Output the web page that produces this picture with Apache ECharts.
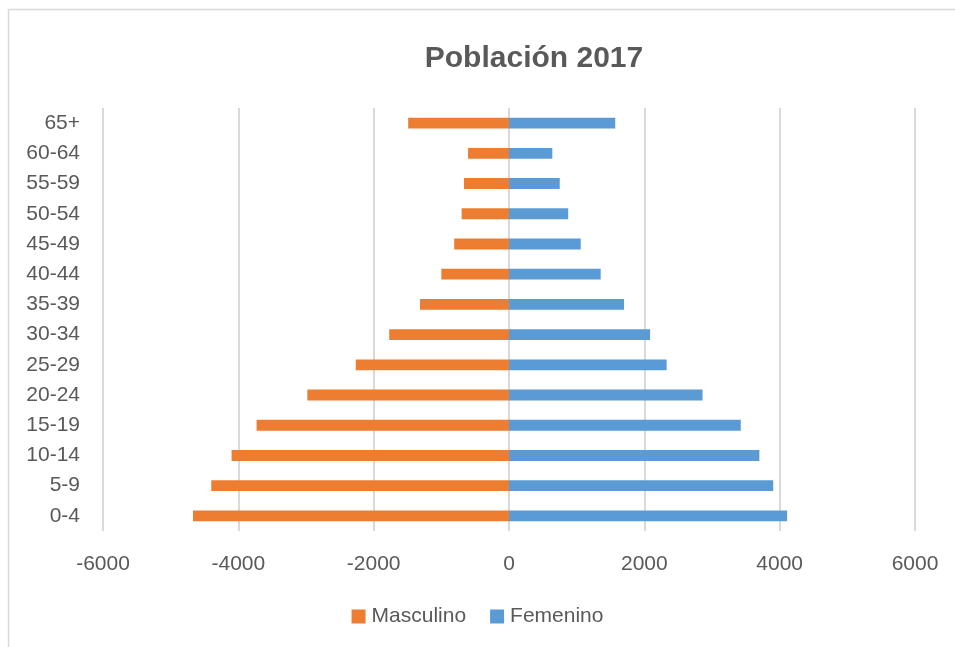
<!DOCTYPE html>
<html>
<head>
<meta charset="utf-8">
<script src="https://cdn.jsdelivr.net/npm/echarts@6/dist/echarts.min.js"></script>
<style>
html,body{margin:0;padding:0;background:#fff;}
#chart{width:955px;height:647px;}
</style>
</head>
<body>
<div id="chart"></div>
<script>
const categories = ['0-4','5-9','10-14','15-19','20-24','25-29','30-34','35-39','40-44','45-49','50-54','55-59','60-64','65+'];
const masculino = [-4670,-4400,-4100,-3730,-2980,-2265,-1770,-1315,-1000,-810,-700,-665,-605,-1490];
const femenino = [4110,3905,3700,3425,2860,2330,2085,1700,1355,1060,875,750,640,1570];
const xTicks = [-6000,-4000,-2000,0,2000,4000,6000];

const FONT = '"Liberation Sans", Arial, sans-serif';
const chart = echarts.init(document.getElementById('chart'), null, {renderer:'canvas'});
chart.setOption({
  animation:false,
  backgroundColor:'#ffffff',
  title:{
    text:'Población 2017',
    left:529, top:39, textAlign:'center',
    textStyle:{fontFamily:FONT,fontSize:30,fontWeight:'bold',color:'#595959'}
  },
  graphic:[{
    type:'rect', shape:{x:8.5,y:9.5,width:960,height:660},
    style:{fill:'none',stroke:'#d9d9d9',lineWidth:1.5}, silent:true
  }],
  legend:{
    bottom:15, left:'center', itemWidth:14, itemHeight:14, itemGap:24,
    icon:'rect',
    textStyle:{fontFamily:FONT,fontSize:21,color:'#595959',padding:[0,0,0,1]},
    data:['Masculino','Femenino']
  },
  grid:{left:103,right:40,top:108,bottom:116,containLabel:false},
  xAxis:{
    type:'value', min:xTicks[0], max:xTicks[xTicks.length-1], interval:2000,
    axisLine:{show:false}, axisTick:{show:false},
    axisLabel:{fontFamily:FONT,fontSize:21,color:'#595959',margin:23,formatter:function(v){return String(v);}},
    splitLine:{show:true,lineStyle:{color:'#d9d9d9',width:2}}
  },
  yAxis:{
    type:'category', data:categories,
    axisLine:{show:false}, axisTick:{show:false},
    axisLabel:{fontFamily:FONT,fontSize:21,color:'#595959',margin:23,padding:[3,0,0,0]}
  },
  series:[
    {name:'Masculino',type:'bar',stack:'t',data:masculino,barWidth:'36%',
     itemStyle:{color:'#ed7d31'}},
    {name:'Femenino',type:'bar',stack:'t',data:femenino,barWidth:'36%',
     itemStyle:{color:'#5b9bd5'}}
  ]
});
</script>
</body>
</html>
